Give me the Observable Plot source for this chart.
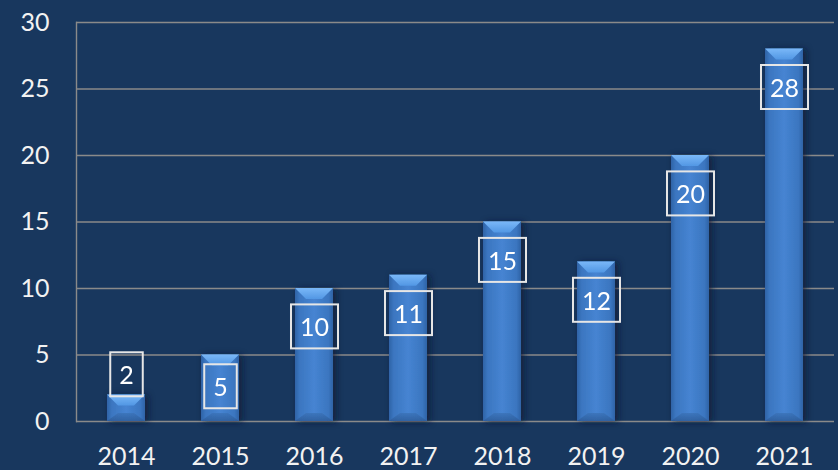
<!DOCTYPE html>
<html>
<head>
<meta charset="utf-8">
<script src="https://cdn.jsdelivr.net/npm/d3@7"></script>
<script src="https://cdn.jsdelivr.net/npm/@observablehq/plot@0.6"></script>
<style>
  html, body { margin: 0; padding: 0; background: #18375e; }
</style>
</head>
<body>
<script>
const years = ["2014", "2015", "2016", "2017", "2018", "2019", "2020", "2021"];
const values = [2, 5, 10, 11, 15, 12, 20, 28];
const yTicks = [0, 5, 10, 15, 20, 25, 30];

const data = years.map((year, i) => ({year, value: values[i]}));

// label sits inside the end of the bar; short bars get it above
const labelY = d => d.value < 4 ? d.value + 1.4 : Math.max(d.value - 3, 2.5);

const chart = Plot.plot({
  width: 838,
  height: 470,
  marginLeft: 76,
  marginRight: 4,
  marginTop: 22,
  marginBottom: 49,
  style: {background: "#18375e", color: "#f2f2f2", fontFamily: "Lato", fontSize: "25px"},
  x: {domain: years, paddingInner: 0.6, paddingOuter: 0.3, label: null},
  y: {domain: [0, 30], label: null},
  marks: [
    Plot.gridY(yTicks, {stroke: "#8a8a8a", strokeOpacity: 1, strokeWidth: 1.4}),
    Plot.frame({anchor: "left", stroke: "#8a8a8a", strokeWidth: 1.4}),
    Plot.axisY(yTicks, {tickSize: 0, tickPadding: 27, fontSize: 25, fill: "#f2f2f2", label: null}),
    Plot.axisX({tickSize: 0, tickPadding: 26, fontSize: 25, fill: "#f2f2f2", label: null}),
    Plot.barY(data, {x: "year", y: "value", fill: "url(#barGrad)", className: "bars"}),
    Plot.text(data, {x: "year", y: labelY, text: d => String(d.value), fill: "#ffffff", fontSize: 25, className: "labels"})
  ]
});
document.body.append(chart);

const NS = "http://www.w3.org/2000/svg";
const svg = chart.tagName.toLowerCase() === "svg" ? chart : chart.querySelector("svg");
const defs = document.createElementNS(NS, "defs");
defs.innerHTML = `
  <linearGradient id="barGrad" x1="0" x2="1" y1="0" y2="0">
    <stop offset="0" stop-color="#2f63a6"/>
    <stop offset="0.12" stop-color="#3b76c0"/>
    <stop offset="0.5" stop-color="#4684d2"/>
    <stop offset="0.88" stop-color="#3b76c0"/>
    <stop offset="1" stop-color="#2f63a6"/>
  </linearGradient>
  <linearGradient id="capGrad" x1="0" x2="0" y1="0" y2="1">
    <stop offset="0" stop-color="#7ab8f8"/>
    <stop offset="1" stop-color="#5297e4"/>
  </linearGradient>
  <linearGradient id="botGrad" x1="0" x2="0" y1="0" y2="1">
    <stop offset="0" stop-color="#3a72b8"/>
    <stop offset="1" stop-color="#2c5b98"/>
  </linearGradient>
  <filter id="shadow" x="-30%" y="-10%" width="160%" height="120%">
    <feDropShadow dx="3" dy="1" stdDeviation="3" flood-color="#081a33" flood-opacity="0.75"/>
  </filter>`;
svg.insertBefore(defs, svg.firstChild);

// bevel caps on bars
const barGroup = svg.querySelector("g.bars") || svg.querySelector('g[aria-label="bar"]');
if (barGroup) {
  barGroup.setAttribute("filter", "url(#shadow)");
  barGroup.querySelectorAll("rect").forEach(r => {
    const x = +r.getAttribute("x"), y = +r.getAttribute("y");
    const w = +r.getAttribute("width"), h = +r.getAttribute("height");
    const cap = Math.min(11, h / 2), inset = Math.min(11, w / 3);
    const top = document.createElementNS(NS, "polygon");
    top.setAttribute("points", `${x},${y} ${x + w},${y} ${x + w - inset},${y + cap} ${x + inset},${y + cap}`);
    top.setAttribute("fill", "url(#capGrad)");
    r.after(top);
    const bc = Math.min(8, h / 3);
    const bot = document.createElementNS(NS, "polygon");
    bot.setAttribute("points", `${x + inset},${y + h - bc} ${x + w - inset},${y + h - bc} ${x + w},${y + h} ${x},${y + h}`);
    bot.setAttribute("fill", "url(#botGrad)");
    bot.setAttribute("opacity", "0.8");
    top.after(bot);
  });
}

// boxes around value labels
const labelGroup = svg.querySelector("g.labels") || svg.querySelector('g[aria-label="text"]');
if (labelGroup) {
  labelGroup.querySelectorAll("text").forEach(t => {
    const b = t.getBBox();
    const rect = document.createElementNS(NS, "rect");
    const cy = b.y + b.height / 2;
    rect.setAttribute("x", b.x - 9);
    rect.setAttribute("width", b.width + 18);
    rect.setAttribute("y", cy - 22);
    rect.setAttribute("height", 44);
    rect.setAttribute("fill", "none");
    rect.setAttribute("stroke", "#e6e6e6");
    rect.setAttribute("stroke-width", 2);
    const tr = t.getAttribute("transform");
    if (tr) rect.setAttribute("transform", tr);
    t.parentNode.insertBefore(rect, t);
  });
}
</script>
</body>
</html>
